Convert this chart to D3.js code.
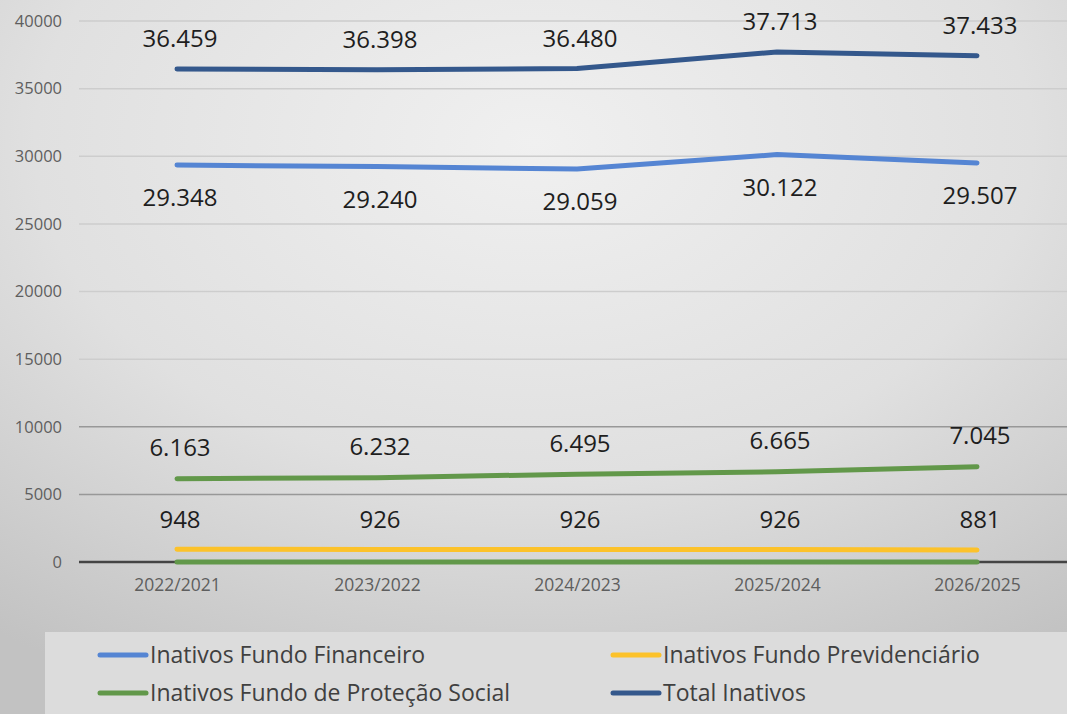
<!DOCTYPE html>
<html>
<head>
<meta charset="utf-8">
<script src="https://cdn.jsdelivr.net/npm/d3@7"></script>
<style>
  html, body { margin: 0; padding: 0; overflow: hidden; }
  svg { display: block; font-family: "Open Sans", sans-serif; }
</style>
</head>
<body>
<svg id="chart" width="1067" height="714"></svg>
<script>
// categories and series
const years = ["2022/2021", "2023/2022", "2024/2023", "2025/2024", "2026/2025"];
const financeiro = [29348, 29240, 29059, 30122, 29507];
const previdenciario = [948, 926, 926, 926, 881];
const protecaoSocial = [6163, 6232, 6495, 6665, 7045];
const totalInativos = [36459, 36398, 36480, 37713, 37433];
const zeroLine = [0, 0, 0, 0, 0];
const yTicks = [0, 5000, 10000, 15000, 20000, 25000, 30000, 35000, 40000];

const series = [
    { name: "Inativos Fundo Financeiro", values: financeiro, color: "#5585d3", dy: 33, legend: true },
    { name: "Inativos Fundo Previdenciário", values: previdenciario, color: "#fcc22a", dy: -30, legend: true },
    { name: "Inativos Fundo de Proteção Social", values: protecaoSocial, color: "#62984a", dy: -31, legend: true },
    { name: "Total Inativos", values: totalInativos, color: "#34588c", dy: -30, legend: true },
    { name: "zero", values: zeroLine, color: "#62984a", dy: null, legend: false }
];

const svg = d3.select("#chart"),
    width = +svg.attr("width"),
    height = +svg.attr("height");

const ptBR = d3.formatLocale({ decimal: ",", thousands: ".", grouping: [3], currency: ["R$", ""] });
const fmt = ptBR.format(",d");

// background
const defs = svg.append("defs");
const bg = defs.append("radialGradient")
    .attr("id", "bg")
    .attr("cx", "50%").attr("cy", "20%").attr("r", "85%");
bg.append("stop").attr("offset", "0%").attr("stop-color", "#f0f0f0");
bg.append("stop").attr("offset", "55%").attr("stop-color", "#e0e0e0");
bg.append("stop").attr("offset", "100%").attr("stop-color", "#c2c2c2");

svg.append("rect")
    .attr("width", width).attr("height", height)
    .attr("fill", "url(#bg)");

const x = d3.scalePoint()
    .domain(years)
    .range([177, 977]);

const y = d3.scaleLinear()
    .domain([0, 40000])
    .range([562, 21]);

const plotLeft = 79;

// gridlines
svg.append("g")
    .attr("class", "grid")
    .selectAll("line")
    .data(yTicks.filter(d => d > 0))
    .enter().append("line")
    .attr("x1", plotLeft)
    .attr("x2", width)
    .attr("y1", d => y(d))
    .attr("y2", d => y(d))
    .attr("stroke", d => d > 10000 ? "#cdcdcd" : "#989898")
    .attr("stroke-width", 1.5);

// y axis labels
const yAxis = svg.append("g")
    .attr("transform", `translate(${plotLeft - 17},0)`)
    .call(d3.axisLeft(y).tickValues(yTicks).tickFormat(d3.format("d")).tickSize(0).tickPadding(0));
yAxis.select(".domain").remove();
yAxis.selectAll("text")
    .attr("fill", "#5e5e5e")
    .style("font-size", "16.5px")
    .style("font-family", "Open Sans, sans-serif");

// baseline
svg.append("line")
    .attr("x1", plotLeft).attr("x2", width)
    .attr("y1", y(0)).attr("y2", y(0))
    .attr("stroke", "#444")
    .attr("stroke-width", 2.5);

// x axis labels
const xAxis = svg.append("g")
    .attr("transform", `translate(0,${y(0) + 17})`)
    .call(d3.axisBottom(x).tickSize(0).tickPadding(0));
xAxis.select(".domain").remove();
xAxis.selectAll("text")
    .attr("fill", "#5e5e5e")
    .attr("dy", "0.71em")
    .style("font-size", "17.5px")
    .style("font-family", "Open Sans, sans-serif");

// lines
const line = d3.line()
    .x((d, i) => x(years[i]))
    .y(d => y(d));

const drawOrder = [series[4], series[1], series[2], series[0], series[3]];
svg.append("g")
    .selectAll("path")
    .data(drawOrder)
    .enter().append("path")
    .attr("d", d => line(d.values))
    .attr("fill", "none")
    .attr("stroke", d => d.color)
    .attr("stroke-width", 5)
    .attr("stroke-linecap", "round")
    .attr("stroke-linejoin", "round");

// data labels
const labelled = series.filter(s => s.dy !== null);
labelled.forEach(s => {
    svg.append("g")
        .selectAll("text")
        .data(s.values)
        .enter().append("text")
        .attr("x", (d, i) => x(years[i]) + 3)
        .attr("y", d => y(d) + s.dy)
        .attr("dy", "0.35em")
        .attr("text-anchor", "middle")
        .attr("fill", "#1e1e1e")
        .style("font-size", "24px")
        .text(d => fmt(d));
});

// legend
const legend = svg.append("g").attr("class", "legend");
legend.append("rect")
    .attr("x", 45).attr("y", 632)
    .attr("width", width - 45).attr("height", height - 632)
    .attr("fill", "#dcdcdc");

const legendPos = [[100, 655], [613, 655], [100, 693], [613, 693]];
const item = legend.selectAll("g.item")
    .data(series.filter(s => s.legend))
    .enter().append("g")
    .attr("class", "item")
    .attr("transform", (d, i) => `translate(${legendPos[i][0]},${legendPos[i][1]})`);

item.append("line")
    .attr("x1", 0).attr("x2", 46)
    .attr("stroke", d => d.color)
    .attr("stroke-width", 5)
    .attr("stroke-linecap", "round");

item.append("text")
    .attr("x", 50)
    .attr("dy", "0.35em")
    .attr("fill", "#404040")
    .style("font-size", "23px")
    .text(d => d.name);
</script>
</body>
</html>
